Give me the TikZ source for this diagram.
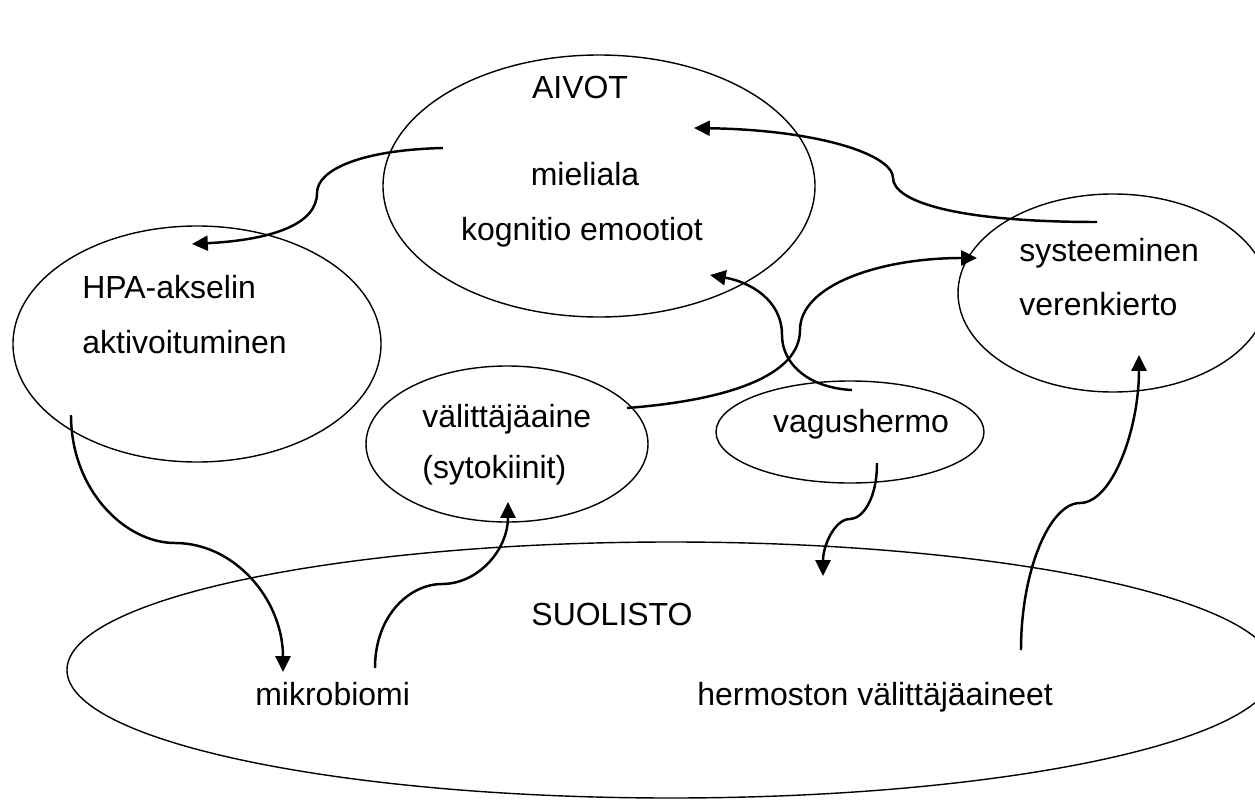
\documentclass[tikz,border=0pt]{standalone}
\usepackage{fontspec}
\setmainfont{Liberation Sans}
\usetikzlibrary{arrows.meta,shapes.geometric}
\begin{document}
\begin{tikzpicture}[x=0.02cm,y=-0.02cm,
  blob/.style={draw=black,line width=0.8pt,ellipse,inner sep=0pt},
  lbl/.style={inner sep=0pt,font=\fontsize{18.2}{22}\selectfont},
  conn/.style={draw=black,line width=1.4pt,-{Triangle[length=9pt,width=8.5pt]}}]
\useasboundingbox (0,0) rectangle (1255,801);
\begin{scope}
\clip (0,0) rectangle (1255,801);
% ellipses
\node[blob,minimum width=432*0.02cm,minimum height=262*0.02cm] (aivot) at (599,186) {};
\node[blob,minimum width=368*0.02cm,minimum height=236*0.02cm] (hpa) at (197,344) {};
\node[blob,minimum width=310*0.02cm,minimum height=198*0.02cm] (sys) at (1113,293) {};
\node[blob,minimum width=282*0.02cm,minimum height=156*0.02cm] (val) at (507,444) {};
\node[blob,minimum width=268*0.02cm,minimum height=102*0.02cm] (vag) at (850,432) {};
\node[blob,minimum width=1208*0.02cm,minimum height=256*0.02cm] (suo) at (671,670) {};
\end{scope}
% texts
\node[lbl,anchor=base] (tAivot) at (580,98) {AIVOT};
\node[lbl,anchor=base] (tMiel) at (585,185) {mieliala};
\node[lbl,anchor=base] (tKogn) at (582,240) {kognitio emootiot};
\node[lbl,anchor=base west] (tHpa1) at (82,298) {HPA-akselin};
\node[lbl,anchor=base west] (tHpa2) at (82,353) {aktivoituminen};
\node[lbl,anchor=base west] (tSys1) at (1019,261) {systeeminen};
\node[lbl,anchor=base west] (tSys2) at (1019,315) {verenkierto};
\node[lbl,anchor=base west] (tVal1) at (422,427) {välittäjäaine};
\node[lbl,anchor=base west] (tVal2) at (422,478) {(sytokiinit)};
\node[lbl,anchor=base] (tVag) at (861,432) {vagushermo};
\node[lbl,anchor=base] (tSuo) at (612,625) {SUOLISTO};
\node[lbl,anchor=base west] (tMik) at (255,705) {mikrobiomi};
\node[lbl,anchor=base west] (tHer) at (697,705) {hermoston välittäjäaineet};
% connector end points
\coordinate (c1s) at (443,148);
\coordinate (c1k) at (317,193);
\coordinate (c1e) at (192,244);
\coordinate (c2s) at (1097,222);
\coordinate (c2k) at (893,178);
\coordinate (c2e) at (694,128);
\coordinate (c3s) at (852,390);
\coordinate (c3k) at (782,335);
\coordinate (c3e) at (710,275);
\coordinate (c4s) at (627,408);
\coordinate (c4k) at (800,330);
\coordinate (c4e) at (977,258);
\coordinate (c5s) at (71,415);
\coordinate (c5k) at (175,543);
\coordinate (c5e) at (283,672);
\coordinate (c6s) at (375,668);
\coordinate (c6k) at (442,584);
\coordinate (c6e) at (508,502);
\coordinate (c7s) at (877,463);
\coordinate (c7k) at (850,519);
\coordinate (c7e) at (823,576);
\coordinate (c8s) at (1021,650);
\coordinate (c8k) at (1080,503);
\coordinate (c8e) at (1139,355);
% connectors
\draw[conn] (c1s) .. controls (360,150) and (317,170) .. (c1k) .. controls (317,225) and (270,240) .. (c1e);
\draw[conn] (c2s) .. controls (950,222) and (893,200) .. (c2k) .. controls (893,155) and (820,130) .. (c2e);
\draw[conn] (c3s) .. controls (810,388) and (782,365) .. (c3k) .. controls (782,300) and (750,282) .. (c3e);
\draw[conn] (c4s) .. controls (730,400) and (800,375) .. (c4k) .. controls (800,285) and (880,258) .. (c4e);
\draw[conn] (c5s) .. controls (71,490) and (125,543) .. (c5k) .. controls (235,543) and (283,600) .. (c5e);
\draw[conn] (c6s) .. controls (375,615) and (410,584) .. (c6k) .. controls (478,584) and (508,550) .. (c6e);
\draw[conn] (c7s) .. controls (877,500) and (862,519) .. (c7k) .. controls (835,519) and (823,545) .. (c7e);
\draw[conn] (c8s) .. controls (1021,570) and (1050,503) .. (c8k) .. controls (1112,503) and (1139,430) .. (c8e);
\end{tikzpicture}
\end{document}
